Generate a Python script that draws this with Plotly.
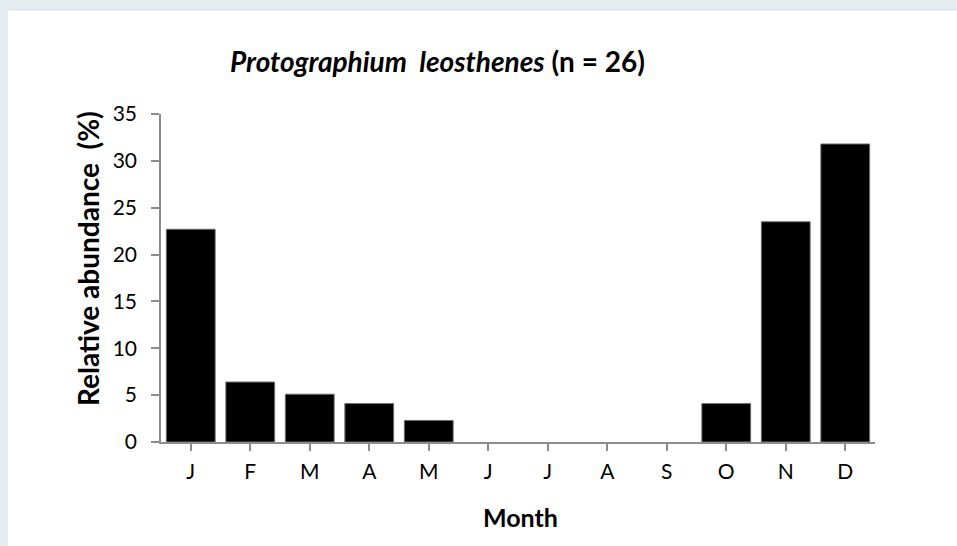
"""Monthly relative abundance bar chart."""

import plotly.graph_objects as go

months = ["J", "F", "M", "A", "M", "J", "J", "A", "S", "O", "N", "D"]
month_ids = list(range(12))
abundance_pct = [22.7, 6.4, 5.1, 4.1, 2.3, 0, 0, 0, 0, 4.1, 23.5, 31.8]
y_ticks = [0, 5, 10, 15, 20, 25, 30, 35]

W, H = 957, 546
L, R, T, B = 161, 82, 114, 104
pw, ph = W - L - R, H - T - B

font = "Lato, 'Open Sans', sans-serif"
axis_grey = "#8c8c8c"

fig = go.Figure()

fig.add_trace(
    go.Bar(
        x=month_ids,
        y=abundance_pct,
        marker={
            "color": "#000000",
            # no outline on empty months, so nothing shows at zero
            "line": {
                "color": "#6e6e6e",
                "width": [1 if v > 0 else 0 for v in abundance_pct],
            },
        },
        showlegend=False,
    )
)

fig.update_layout(
    width=W,
    height=H,
    margin={"l": L, "r": R, "t": T, "b": B, "autoexpand": False},
    paper_bgcolor="#e5edf2",
    plot_bgcolor="#ffffff",
    bargap=0.18,
    font={"family": font, "color": "#000000", "size": 21},
    xaxis={
        "range": [-0.5, 11.5],
        "tickmode": "array",
        "tickvals": month_ids,
        "ticktext": months,
        "tickson": "boundaries",
        "ticks": "outside",
        "ticklen": 7,
        "tickcolor": axis_grey,
        "tickwidth": 1.5,
        "showline": True,
        "linecolor": axis_grey,
        "linewidth": 1.5,
        "showgrid": False,
        "zeroline": False,
        "ticklabelstandoff": 3,
        "fixedrange": True,
    },
    yaxis={
        "range": [0, 35],
        "tickvals": y_ticks,
        "ticks": "outside",
        "ticklen": 8,
        "tickcolor": axis_grey,
        "tickwidth": 1.5,
        "showline": True,
        "linecolor": axis_grey,
        "linewidth": 1.5,
        "showgrid": False,
        "zeroline": False,
        "ticklabelstandoff": 10,
        "fixedrange": True,
    },
    shapes=[
        # white chart panel over the light frame
        {
            "type": "rect",
            "xref": "paper",
            "yref": "paper",
            "x0": (7 - L) / pw,
            "x1": (W + 2 - L) / pw,
            "y0": (-2 - B) / ph,
            "y1": (H - 10 - B) / ph,
            "fillcolor": "#ffffff",
            "line": {"color": "#d3e0e8", "width": 1},
            "layer": "below",
        }
    ],
    annotations=[
        {
            "text": "<b><i>Protographium  leosthenes</i> (n = 26)</b>",
            "xref": "paper",
            "yref": "paper",
            "x": (437 - L) / pw,
            "y": (H - 61 - B) / ph,
            "xanchor": "center",
            "yanchor": "middle",
            "showarrow": False,
            "font": {"size": 28},
        },
        {
            "text": "<b>Relative abundance  (%)</b>",
            "xref": "paper",
            "yref": "paper",
            "x": (88 - L) / pw,
            "y": (H - 259 - B) / ph,
            "xanchor": "center",
            "yanchor": "middle",
            "textangle": -90,
            "showarrow": False,
            "font": {"size": 28},
        },
        {
            "text": "<b>Month</b>",
            "xref": "paper",
            "yref": "paper",
            "x": (520 - L) / pw,
            "y": (H - 517 - B) / ph,
            "xanchor": "center",
            "yanchor": "middle",
            "showarrow": False,
            "font": {"size": 25},
        },
    ],
)

fig.write_html(
    "out.html",
    config={"displayModeBar": False},
    post_script="document.body.style.margin = '0';",
)
